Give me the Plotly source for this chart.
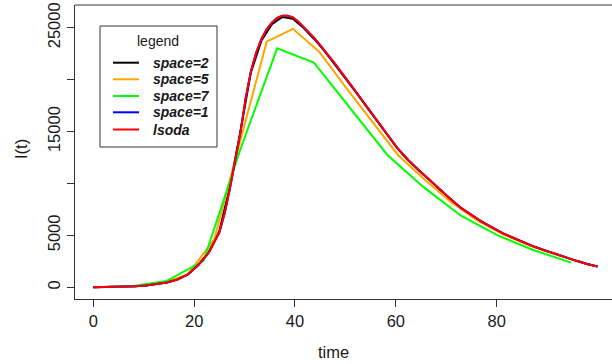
import plotly.graph_objects as go

# ---- data ----
lsoda_time = [0, 2.08, 4.17, 6.25, 8.33, 10.42, 12.5, 14.58, 16.67, 18.75, 20.83, 22.92,
              25.0, 26.04, 27.08, 28.13, 29.17, 30.21, 31.25, 32.29, 33.33, 34.38, 35.42,
              36.46, 37.5, 38.54, 39.58, 40.63, 41.67, 42.71, 43.75, 44.79, 45.83,
              47.92, 50.0, 52.08, 54.17, 56.25, 58.33, 60.42, 62.5, 64.58, 66.67, 68.75,
              70.83, 72.92, 75.0, 77.08, 79.17, 81.25, 83.33, 85.42, 87.5, 89.58, 91.67,
              93.75, 95.83, 97.92, 100.0]
lsoda_I = [10, 20, 35, 60, 100, 170, 280, 460, 750, 1250, 2150, 3350,
           5300, 7100, 9500, 12150, 14900, 18200, 20800, 22600, 23900, 24850, 25500,
           25950, 26150, 26150, 26000, 25600, 25100, 24600, 24050, 23450, 22850,
           21550, 20200, 18850, 17450, 16100, 14700, 13350, 12250, 11250, 10350, 9400,
           8500, 7650, 6950, 6300, 5750, 5200, 4750, 4300, 3900, 3550, 3200,
           2850, 2550, 2250, 2000]

space1_time = lsoda_time
space1_I = [10, 20, 35, 60, 100, 170, 280, 460, 750, 1250, 2150, 3350,
            5300, 7100, 9500, 12150, 14900, 18200, 20800, 22600, 23900, 24850, 25500,
            25950, 26150, 26150, 26000, 25600, 25100, 24600, 24050, 23450, 22850,
            21550, 20200, 18850, 17450, 16100, 14700, 13350, 12250, 11250, 10350, 9400,
            8500, 7650, 6950, 6300, 5750, 5200, 4750, 4300, 3900, 3550, 3200,
            2850, 2550, 2250, 2000]

space2_time = [0, 2.08, 4.17, 6.25, 8.33, 10.42, 12.5, 14.58, 16.67, 18.75, 20.83, 22.92,
               25.0, 27.08, 29.17, 31.25, 33.33, 35.42, 37.5, 39.58, 41.67, 43.75, 45.83,
               47.92, 50.0, 52.08, 54.17, 56.25, 58.33, 60.42, 62.5, 64.58, 66.67, 68.75,
               70.83, 72.92, 75.0, 77.08, 79.17, 81.25, 83.33, 85.42, 87.5, 89.58, 91.67,
               93.75, 95.83, 97.92, 100.0]
space2_I = [10, 20, 35, 60, 100, 170, 280, 460, 750, 1250, 2150, 3400,
            5400, 9700, 15000, 20700, 23750, 25350, 26050, 25880, 25000, 23950, 22780,
            21480, 20140, 18800, 17400, 16050, 14660, 13320, 12220, 11230, 10330, 9390,
            8490, 7640, 6940, 6300, 5750, 5200, 4750, 4300, 3900, 3550, 3200,
            2850, 2550, 2250, 2000]

space5_time = [3.13, 8.33, 13.54, 18.75, 23.96, 29.17, 34.38, 39.58, 44.79, 50.0,
               55.21, 60.42, 65.63, 70.83, 76.04, 81.25, 86.46, 91.67, 96.88]
space5_I = [25, 100, 370, 1250, 4600, 14200, 23660, 24900, 22700, 19300,
            16000, 12750, 10400, 8250, 6470, 5100, 4050, 3170, 2380]

space7_time = [0, 7.29, 14.58, 21.88, 29.17, 36.46, 43.75, 51.04, 58.33, 65.63,
               72.92, 80.21, 87.5, 94.79]
space7_I = [10, 90, 620, 2550, 13300, 23025, 21650, 17200, 12750, 9600,
            6900, 5000, 3550, 2380]

y_tickvals = [0, 5000, 10000, 15000, 20000, 25000]
y_ticktext = ["0", "5000", "", "15000", "", "25000"]
x_tickvals = [0, 20, 40, 60, 80]

series = [
    ("space=2", space2_time, space2_I, "#000000"),
    ("space=5", space5_time, space5_I, "#FFA500"),
    ("space=7", space7_time, space7_I, "#00FF00"),
    ("space=1", space1_time, space1_I, "#0000FF"),
    ("lsoda", lsoda_time, lsoda_I, "#FF0000"),
]

FONT = "Liberation Sans, Arial, sans-serif"
AX = "#333333"
TXT = "#1a1a1a"
W, H = 612, 364
ML, MR, MT, MB = 75, 0, 5, 65
PW, PH = W - ML - MR, H - MT - MB


def px(xp):  # page pixel x -> paper
    return (xp - ML) / PW


def py(yp):  # page pixel y -> paper
    return (H - MB - yp) / PH


fig = go.Figure()
for name, t, v, c in series:
    fig.add_trace(go.Scatter(x=t, y=v, mode="lines", name=name, showlegend=False,
                             line=dict(color=c, width=2)))

shapes = [dict(type="line", xref="paper", yref="paper", x0=0, x1=1, y0=1, y1=1,
               line=dict(color=AX, width=1))]
annotations = [
    dict(text="time", xref="paper", yref="paper", x=px(333), y=py(352),
         xanchor="center", yanchor="middle", showarrow=False,
         font=dict(family=FONT, size=16.5, color=TXT)),
    dict(text="I(t)", xref="paper", yref="paper", x=px(21), y=py(149),
         xanchor="center", yanchor="middle", showarrow=False, textangle=-90,
         font=dict(family=FONT, size=16.5, color=TXT)),
]

# legend box (drawn like R's legend())
shapes.append(dict(type="rect", xref="paper", yref="paper",
                   x0=px(100), x1=px(217), y0=py(147), y1=py(26),
                   line=dict(color=AX, width=1), fillcolor="white", layer="above"))
annotations.append(dict(text="legend", xref="paper", yref="paper", x=px(158), y=py(41),
                        xanchor="center", yanchor="middle", showarrow=False,
                        font=dict(family=FONT, size=14, color=TXT)))
row_y = [62.7, 79.3, 96, 112.3, 129.5]
for (name, t, v, c), ry in zip(series, row_y):
    shapes.append(dict(type="line", xref="paper", yref="paper",
                       x0=px(113), x1=px(139), y0=py(ry), y1=py(ry),
                       line=dict(color=c, width=2), layer="above"))
    annotations.append(dict(text="<b><i>%s</i></b>" % name, xref="paper", yref="paper",
                            x=px(151), y=py(ry), xanchor="left", yanchor="middle",
                            showarrow=False,
                            font=dict(family=FONT, size=14, color=TXT)))

fig.update_layout(
    width=W, height=H,
    margin=dict(l=ML, r=MR, t=MT, b=MB, pad=0, autoexpand=False),
    paper_bgcolor="white", plot_bgcolor="white",
    font=dict(family=FONT, size=16.5, color=TXT),
    showlegend=False,
    xaxis=dict(range=[-3.63, 102.87], showgrid=False, zeroline=False, automargin=False,
               showline=True, linecolor=AX, linewidth=1,
               ticks="outside", ticklen=7, tickcolor=AX,
               tickvals=x_tickvals),
    yaxis=dict(range=[-1127, 27197], showgrid=False, zeroline=False, automargin=False,
               showline=True, linecolor=AX, linewidth=1,
               ticks="outside", ticklen=7, tickcolor=AX,
               tickvals=y_tickvals, ticktext=y_ticktext, tickangle=-90),
    shapes=shapes,
    annotations=annotations,
)

fig.write_html("out.html",
               config={"displayModeBar": False},
               post_script="document.body.style.margin='0px';"
                           "document.body.style.overflow='hidden';")
